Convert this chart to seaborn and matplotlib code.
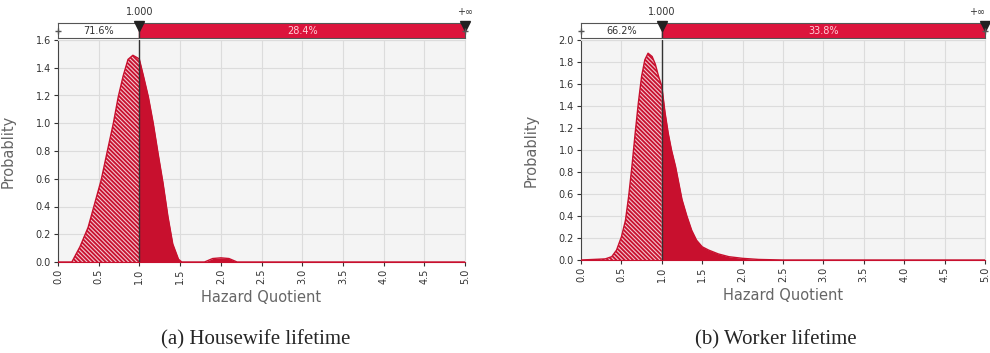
import numpy as np
import pandas as pd
import seaborn as sns
import matplotlib.pyplot as plt

# Hazard quotient grid and probability density
hw_x = [0.0, 0.17, 0.27, 0.37, 0.45, 0.53, 0.61, 0.68, 0.74, 0.80, 0.86, 0.92, 0.98, 1.0,
        1.05, 1.11, 1.17, 1.23, 1.29, 1.35, 1.41, 1.48, 1.52, 1.8, 1.9, 2.0, 2.1, 2.2, 5.0]
hw_y = [0.0, 0.0, 0.11, 0.25, 0.42, 0.59, 0.81, 1.0, 1.19, 1.34, 1.46, 1.49, 1.47, 1.46,
        1.34, 1.19, 1.0, 0.78, 0.57, 0.33, 0.13, 0.02, 0.0, 0.0, 0.025, 0.03, 0.025, 0.0, 0.0]

wk_x = [0.0, 0.30, 0.38, 0.44, 0.50, 0.55, 0.59, 0.63, 0.67, 0.71, 0.75, 0.79, 0.83, 0.88,
        0.92, 0.96, 1.0, 1.04, 1.08, 1.12, 1.17, 1.21, 1.25, 1.31, 1.37, 1.43, 1.50, 1.58,
        1.70, 1.83, 2.0, 2.2, 2.5, 5.0]
wk_y = [0.0, 0.01, 0.03, 0.09, 0.21, 0.36, 0.58, 0.85, 1.15, 1.43, 1.67, 1.82, 1.88, 1.85,
        1.78, 1.67, 1.58, 1.34, 1.15, 1.0, 0.85, 0.70, 0.55, 0.40, 0.27, 0.18, 0.12, 0.09,
        0.055, 0.03, 0.015, 0.005, 0.0, 0.0]

hw_pct = ['71.6%', '28.4%']
wk_pct = ['66.2%', '33.8%']
captions = ['(a) Housewife lifetime', '(b) Worker lifetime']
threshold = 1.0

sns.set_style('white')
plt.rcParams['font.family'] = ['DejaVu Sans']
plt.rcParams['hatch.linewidth'] = 0.8

FILL = '#c8102e'
BAR = '#dc143c'
GRID = '#dcdcdc'

fig = plt.figure(figsize=(9.9, 3.53), dpi=100)

panels = [
    (hw_x, hw_y, hw_pct, captions[0], 1.6, [58, 465, 40, 262], 256),
    (wk_x, wk_y, wk_pct, captions[1], 2.0, [581, 985, 40, 260], 776),
]

W, H = 990, 353
for xs, ys, pct, cap, ymax, (l, r, t, b), cx in panels:
    ax = fig.add_axes([l / W, (H - b) / H, (r - l) / W, (b - t) / H])
    bar = fig.add_axes([l / W, (H - 38) / H, (r - l) / W, 15 / H])

    df = pd.DataFrame({'hq': xs, 'prob': ys})
    left = df[df.hq <= threshold]
    right = df[df.hq >= threshold]

    ax.set_facecolor('#f4f4f4')
    ax.fill_between(left.hq, 0, left.prob, facecolor=FILL, edgecolor='#f3c6cf',
                    hatch='\\' * 8, linewidth=0, zorder=2)
    ax.fill_between(right.hq, 0, right.prob, facecolor=FILL, linewidth=0, zorder=2)
    sns.lineplot(data=df, x='hq', y='prob', ax=ax, color=FILL, linewidth=1.0, zorder=3)
    ax.axvline(threshold, color='#333333', linewidth=1.0, zorder=4)

    ax.set_xlim(0, 5)
    ax.set_ylim(0, ymax)
    ax.set_xticks(np.arange(0, 5.01, 0.5))
    ax.set_yticks(np.arange(0, ymax + 0.01, 0.2))
    ax.set_xticklabels([f'{v:.1f}' for v in np.arange(0, 5.01, 0.5)], rotation=90)
    ax.set_yticklabels([f'{v:.1f}' for v in np.arange(0, ymax + 0.01, 0.2)])
    ax.tick_params(axis='both', labelsize=7, colors='#333333', length=3, width=0.8,
                   direction='out', bottom=True, left=True, pad=2)
    ax.grid(True, color=GRID, linewidth=0.8, zorder=0)
    ax.set_axisbelow(True)
    for side in ['top', 'right']:
        ax.spines[side].set_color(GRID)
    ax.spines['left'].set_color('#444444')
    ax.spines['bottom'].set_color(FILL)

    ax.set_xlabel('Hazard Quotient', fontsize=10.5, color='#666666')
    ax.set_ylabel('Probablity', fontsize=10.5, color='#666666')
    ax.xaxis.set_label_coords(0.5, -0.125)
    ax.yaxis.set_label_coords(-0.105, 0.5)

    # top band with the probability split around the threshold
    bar.set_xlim(0, 5)
    bar.set_ylim(0, 1)
    bar.axvspan(0, threshold, color='white', zorder=1)
    bar.axvspan(threshold, 5, color=BAR, zorder=1)
    bar.axvline(threshold, color='#333333', linewidth=1.0, zorder=2)
    bar.set_xticks([])
    bar.set_yticks([])
    for s in bar.spines.values():
        s.set_color('#555555')
        s.set_linewidth(0.8)
    bar.text(threshold / 2, 0.45, pct[0], ha='center', va='center', fontsize=7,
             color='#333333')
    bar.text((threshold + 5) / 2, 0.45, pct[1], ha='center', va='center', fontsize=7,
             color='#ffd0d8')
    bar.plot([threshold, 5], [0.82, 0.82], 'v', color='#222222', markersize=7,
             clip_on=False, zorder=5)
    bar.plot([0, 5], [0.45, 0.45], '+', color='#555555', markersize=5,
             clip_on=False, zorder=5)
    bar.text(threshold, 1.75, '1.000', ha='center', va='center', fontsize=7,
             color='#333333', clip_on=False)
    bar.text(5, 1.75, '+\u221e', ha='right' if r > 970 else 'center', va='center',
             fontsize=7, color='#333333', clip_on=False)

    fig.text(cx / W, (H - 340) / H, cap, ha='center', va='center', fontsize=15,
             family='Liberation Serif')

fig.savefig('out.png', dpi=100)
